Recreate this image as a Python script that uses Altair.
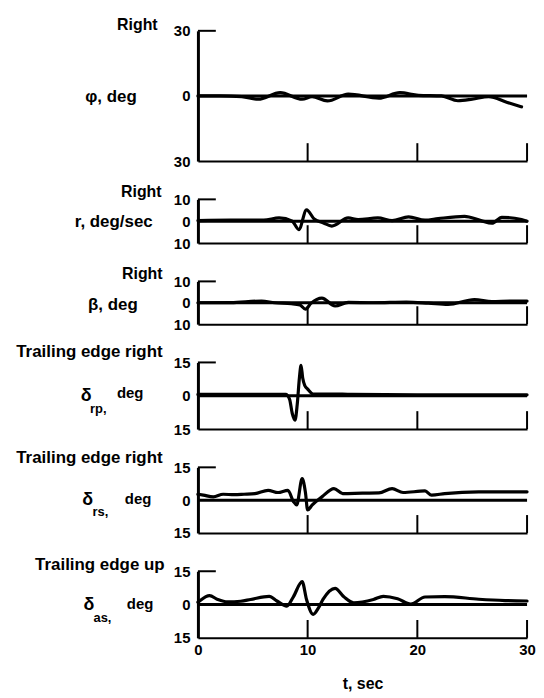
import altair as alt
import pandas as pd

F = "Liberation Sans"
W = 331

# ---- data ----
phi_t = [0, 2, 4, 5.5, 7.5, 9.5, 10.4, 11.8, 13.7, 16.5, 18.4, 20.1, 22.2, 23.7, 25.0, 26.5, 28.2, 29.5]
phi_v = [0, 0, -0.3, -1.5, 1.5, -1.5, -0.3, -2.3, 0.8, -1.0, 1.5, 0.3, 0, -2.2, -1.5, -0.3, -3.0, -5.0]

r_t = [0, 3, 6, 7.4, 8.6, 9.2, 9.9, 10.6, 11.45, 12.2, 13.7, 14.6, 16.4, 17.7, 19.2, 20.7, 21.9, 24.3, 25.8, 26.8, 27.7, 29.5, 30]
r_v = [0.3, 0.5, 0.5, 1.5, 0, -3.8, 5.2, 1.0, -0.8, -2.2, 1.5, 0.8, 1.5, 0.3, 2.0, 0.5, 1.2, 2.2, 0.3, -0.9, 1.8, 0.8, 0]

b_t = [0, 3, 5.8, 7, 8.5, 9.3, 9.8, 10.3, 11.3, 12.5, 13.7, 16, 19, 21, 22.8, 25.2, 26.8, 28.5, 30]
b_v = [0, 0.1, 0.8, 0, -0.4, -1.0, -3.0, -0.3, 2.2, -1.5, 0.2, 0, 0.3, -0.2, -0.8, 1.5, 0.6, 0.8, 0.8]

rp_t = [0, 4, 8.0, 8.35, 8.6, 8.85, 9.05, 9.25, 9.4, 9.55, 9.75, 10.0, 10.5, 12, 14, 20, 30]
rp_v = [0.6, 0.6, 0.6, -1.5, -8, -11, -4, 8, 13.7, 8, 4.5, 3.0, 0.8, 0.8, 0.6, 0.4, 0.4]

rs_t = [0, 0.5, 1.4, 2.3, 3.3, 4.2, 5.2, 6.4, 7.3, 8.2, 8.7, 9.0, 9.5, 9.8, 10.0, 10.4, 11.3, 12.4, 13.2, 15.0, 16.5, 17.7, 18.7, 20.7, 21.3, 22.5, 25.6, 30]
rs_v = [2.7, 2.3, 1.5, 2.7, 2.5, 2.7, 3.0, 4.5, 3.5, 4.5, -0.6, -2.2, 9.8, 3.5, -4.5, -2.3, 1.5, 5.3, 3.0, 3.2, 3.3, 5.3, 3.5, 4.2, 2.3, 3.0, 3.8, 3.8]

as_t = [0, 0.15, 1.06, 1.8, 2.7, 3.9, 4.8, 6.5, 7.2, 8.1, 8.7, 9.5, 9.9, 10.5, 11.0, 11.4, 12.5, 13.3, 14.2, 16.0, 16.9, 18.2, 19.4, 20.7, 22.5, 25.6, 28, 30]
as_v = [1.0, 1.6, 4.0, 2.3, 1.2, 1.5, 2.3, 3.7, 1.6, -0.7, 3.5, 10.3, 2.3, -4.4, -1.4, 2.3, 7.3, 3.5, 0.8, 2.3, 3.7, 2.6, 0.2, 3.4, 3.6, 2.4, 1.8, 1.6]

zero_t = [0, 30]
zero_v = [0, 0]
tick_t = [10, 20, 30]
x_labels = [0, 10, 20, 30]

one = pd.DataFrame({"a": [0]})


def txt(s, x, y, align="right", size=17):
    return alt.Chart(one).mark_text(
        text=s, align=align, baseline="middle", font=F, fontWeight="bold",
        fontSize=size, color="black"
    ).encode(x=alt.value(x), y=alt.value(y))


def panel(t, v, lim, h, texts, bottom=False, pin=False):
    xs = alt.Scale(domain=[0, 30], nice=False)
    ys = alt.Scale(domain=[-lim, lim], nice=False)
    if bottom:
        xa = alt.Axis(values=x_labels, format="d", ticks=False, labelPadding=5,
                      labelFontSize=15, labelFont=F, labelFontWeight="bold",
                      labelColor="black", labelFlush=False, domainWidth=2,
                      domainColor="black", grid=False, title="t, sec",
                      titleFontSize=16, titleFont=F, titleFontWeight="bold",
                      titleColor="black", titlePadding=18)
    else:
        xa = alt.Axis(labels=False, ticks=False, domainWidth=2, domainColor="black",
                      grid=False, title=None)
    ya = alt.Axis(values=[-lim, 0, lim], labelExpr="format(abs(datum.value), 'd')",
                  ticks=False, labelPadding=8, labelFontSize=15, labelFont=F,
                  labelFontWeight="bold", labelColor="black", labelOverlap=False,
                  domainWidth=3, domainColor="black", grid=False, title=None)
    X = alt.X("t:Q", scale=xs, axis=xa)
    Y = alt.Y("v:Q", scale=ys, axis=ya)
    zero = alt.Chart(pd.DataFrame({"t": zero_t, "v": zero_v})).mark_line(
        color="black", strokeWidth=3).encode(x=X, y=Y)
    trace = alt.Chart(pd.DataFrame({"t": t, "v": v})).mark_line(
        color="black", strokeWidth=3.2, interpolate="monotone", strokeJoin="round",
        strokeCap="round").encode(x=X, y=Y)
    ticks = alt.Chart(pd.DataFrame({"t": tick_t})).mark_rule(
        color="black", strokeWidth=2).encode(x=X, y=alt.value(h), y2=alt.value(h - 18))
    toptick = alt.Chart(one).mark_rule(color="black", strokeWidth=2).encode(
        x=alt.value(0), x2=alt.value(18), y=alt.value(0))
    layers = [zero, trace, ticks, toptick] + texts
    if pin:
        layers.append(alt.Chart(one).mark_rule(color="white", strokeWidth=1).encode(
            x=alt.value(-190), x2=alt.value(-189), y=alt.value(-20)))
    return alt.layer(*layers).properties(width=W, height=h)


p1 = panel(phi_t, phi_v, 30, 131,
           [txt("Right", -40.5, -6, size=16), txt("φ, deg", -61.5, 67)], pin=True)
p2 = panel(r_t, r_v, 10, 44,
           [txt("Right", -36.5, -7, size=16), txt("r, deg/sec", -45.5, 23)])
p3 = panel(b_t, b_v, 10, 43,
           [txt("Right", -35.5, -7, size=16), txt("β, deg", -60.5, 24)])
p4 = panel(rp_t, rp_v, 15, 67,
           [txt("Trailing edge right", -35.5, -10),
            txt("δ", -112.5, 34, "center", 18), txt("rp,", -108.5, 47, "left", 13),
            txt("deg", -81.5, 31, "left", 15)])
p5 = panel(rs_t, rs_v, 15, 66,
           [txt("Trailing edge right", -35.5, -9),
            txt("δ", -111, 33, "center", 18), txt("rs,", -106, 45, "left", 13),
            txt("deg", -73.5, 32, "left", 15)])
p6 = panel(as_t, as_v, 15, 67,
           [txt("Trailing edge up", -33.5, -6),
            txt("δ", -109.5, 34, "center", 18), txt("as,", -105, 47, "left", 13),
            txt("deg", -71.5, 33, "left", 15)], bottom=True)

chart = alt.vconcat(p1, p2, p3, p4, p5, p6, spacing=38.5, bounds="flush").configure_view(
    stroke=None).properties(padding=0)

chart.save("out.html", embed_options={"renderer": "svg", "actions": False})
